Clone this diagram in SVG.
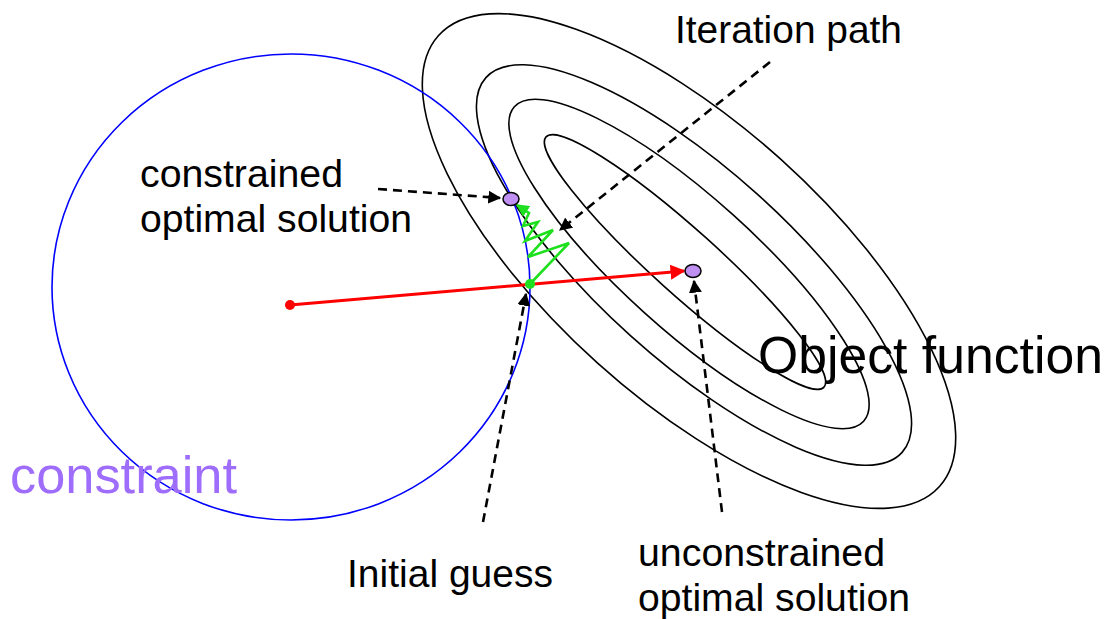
<svg xmlns="http://www.w3.org/2000/svg" width="1111" height="619" viewBox="0 0 1111 619">
<style>
.lbl{font-family:"Liberation Sans",Arial,sans-serif;font-size:39px;fill:#000}
.big{font-family:"Liberation Sans",Arial,sans-serif;font-size:52px}
.contour{fill:none;stroke:#000;stroke-width:1.6}
.dash{fill:none;stroke:#000;stroke-width:2.6;stroke-dasharray:9 6}
.pt{fill:#c08ff2;stroke:#000;stroke-width:1.5}
</style>
<defs>
<marker id="ahK" viewBox="0 0 10 10" refX="9" refY="5" markerWidth="5" markerHeight="5" orient="auto" markerUnits="strokeWidth"><path d="M0,0L10,5L0,10Z" fill="#000"/></marker>
<marker id="ahR" viewBox="0 0 10 10" refX="9" refY="5" markerWidth="5" markerHeight="5" orient="auto" markerUnits="strokeWidth"><path d="M0,0L10,5L0,10Z" fill="#f00"/></marker>
<marker id="ahG" viewBox="0 0 10 10" refX="9" refY="5" markerWidth="5" markerHeight="5" orient="auto" markerUnits="strokeWidth"><path d="M0,0L10,5L0,10Z" fill="#1ee01e"/></marker>
</defs>
<rect width="1111" height="619" fill="#fff"/>
<g id="objective">
<ellipse class="contour" cx="689" cy="261" rx="337" ry="137" transform="rotate(42 689 261)"/>
<ellipse class="contour" cx="694" cy="265" rx="280" ry="95" transform="rotate(42 694 265)"/>
<ellipse class="contour" cx="689" cy="264" rx="235" ry="66" transform="rotate(42 689 264)"/>
<ellipse class="contour" cx="685" cy="262" rx="187" ry="32" transform="rotate(42 685 262)"/>
<text class="big" x="758" y="373" fill="#000" textLength="345" lengthAdjust="spacingAndGlyphs">Object function</text>
</g>
<g id="constraint">
<ellipse cx="291" cy="287" rx="239" ry="233" fill="none" stroke="#0000ff" stroke-width="1.6"/>
<text class="big" x="10" y="493" fill="#9f6dfb" textLength="227" lengthAdjust="spacingAndGlyphs">constraint</text>
</g>
<g id="connectors">
<line x1="290" y1="305" x2="684" y2="271" stroke="#f00" stroke-width="3" marker-end="url(#ahR)"/>
<path d="M530,284 L569,243 L528,257 L553,230 L525,241 L538,222 L523,226 L529,213 L517,205" fill="none" stroke="#1ee01e" stroke-width="2.6" stroke-linejoin="miter" marker-end="url(#ahG)"/>
<line class="dash" x1="378" y1="189" x2="500" y2="198" marker-end="url(#ahK)"/>
<line class="dash" x1="770" y1="62" x2="560" y2="230" marker-end="url(#ahK)"/>
<line class="dash" x1="483" y1="522" x2="526" y2="294" marker-end="url(#ahK)"/>
<line class="dash" x1="722" y1="512" x2="694" y2="281" marker-end="url(#ahK)"/>
</g>
<g id="center"><circle cx="290" cy="305" r="5" fill="#f00"/></g>
<g id="initial-guess"><circle cx="530" cy="284" r="5" fill="#1ee01e"/>
<text class="lbl" x="347" y="587" textLength="206" lengthAdjust="spacingAndGlyphs">Initial guess</text></g>
<g id="constrained-opt"><ellipse class="pt" cx="511" cy="199" rx="8" ry="6.5"/>
<text class="lbl" x="140" y="187" textLength="203" lengthAdjust="spacingAndGlyphs">constrained</text>
<text class="lbl" x="140" y="232" textLength="272" lengthAdjust="spacingAndGlyphs">optimal solution</text></g>
<g id="unconstrained-opt"><ellipse class="pt" cx="693" cy="271" rx="8" ry="6.5"/>
<text class="lbl" x="638" y="566" textLength="247" lengthAdjust="spacingAndGlyphs">unconstrained</text>
<text class="lbl" x="638" y="611" textLength="272" lengthAdjust="spacingAndGlyphs">optimal solution</text></g>
<g id="iteration-label"><text class="lbl" x="675" y="43" textLength="227" lengthAdjust="spacingAndGlyphs">Iteration path</text></g>
</svg>
